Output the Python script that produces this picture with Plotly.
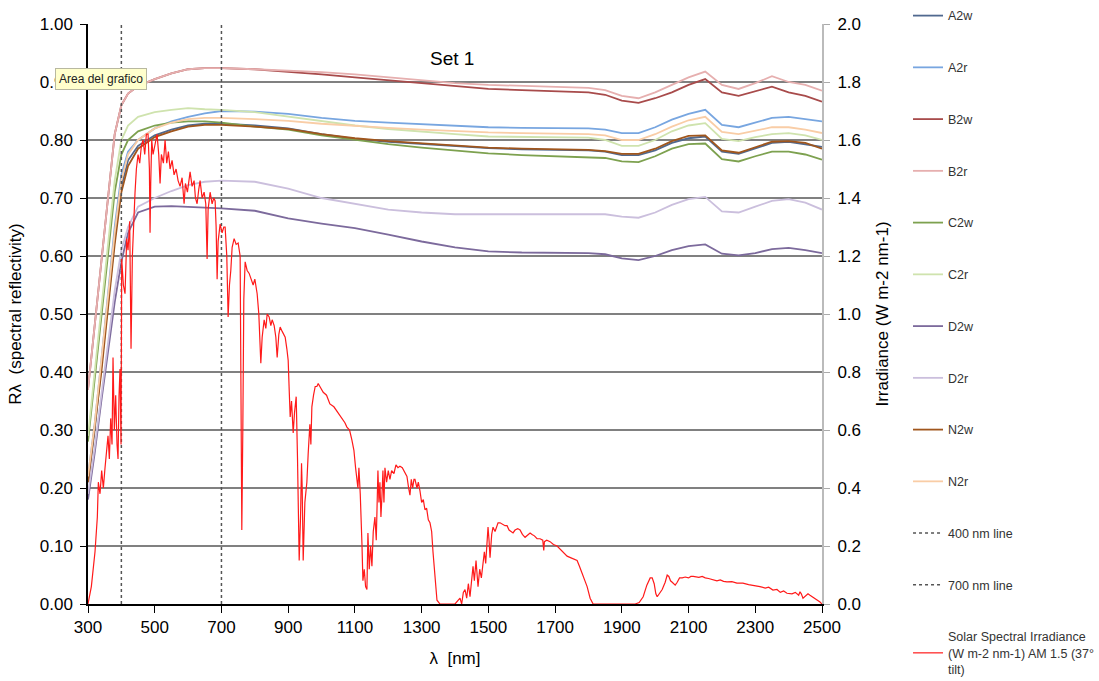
import plotly.graph_objects as go

# ---------------- data ----------------
wl = [300, 320, 340, 360, 380, 400, 420, 450, 500, 550, 600, 650, 700,
      800, 900, 1000, 1100, 1200, 1300, 1400, 1500, 1600, 1700, 1800, 1850,
      1900, 1950, 2000, 2050, 2100, 2150, 2200, 2250, 2300, 2350, 2400, 2450, 2500]

A2w = [0.21, 0.30, 0.41, 0.52, 0.63, 0.72, 0.765, 0.79, 0.808, 0.818, 0.825, 0.828, 0.828,
       0.825, 0.82, 0.81, 0.802, 0.797, 0.793, 0.79, 0.786, 0.784, 0.783, 0.782, 0.780,
       0.774, 0.774, 0.782, 0.795, 0.803, 0.806, 0.780, 0.776, 0.785, 0.795, 0.797, 0.792, 0.788]
A2r = [0.22, 0.31, 0.42, 0.53, 0.65, 0.74, 0.78, 0.80, 0.82, 0.832, 0.84, 0.846, 0.85,
       0.849, 0.845, 0.838, 0.833, 0.83, 0.827, 0.824, 0.822, 0.821, 0.821, 0.82, 0.818,
       0.812, 0.812, 0.822, 0.835, 0.845, 0.852, 0.826, 0.822, 0.83, 0.838, 0.84, 0.836, 0.832]
B2w = [0.37, 0.48, 0.60, 0.71, 0.81, 0.86, 0.88, 0.893, 0.905, 0.915, 0.922, 0.924, 0.924,
       0.922, 0.918, 0.913, 0.908, 0.903, 0.898, 0.892, 0.888, 0.886, 0.884, 0.882, 0.878,
       0.868, 0.864, 0.872, 0.882, 0.895, 0.905, 0.882, 0.876, 0.884, 0.892, 0.882, 0.876, 0.866]
B2r = [0.37, 0.48, 0.60, 0.71, 0.81, 0.86, 0.88, 0.893, 0.905, 0.915, 0.922, 0.924, 0.924,
       0.922, 0.92, 0.917, 0.913, 0.908, 0.903, 0.898, 0.895, 0.893, 0.892, 0.89, 0.886,
       0.876, 0.872, 0.882, 0.895, 0.908, 0.918, 0.895, 0.888, 0.898, 0.91, 0.90, 0.895, 0.885]
C2w = [0.28, 0.39, 0.50, 0.61, 0.71, 0.775, 0.80, 0.815, 0.825, 0.83, 0.832, 0.832, 0.83,
       0.823, 0.818, 0.808, 0.80, 0.793, 0.787, 0.782, 0.777, 0.774, 0.772, 0.771, 0.769,
       0.763, 0.762, 0.772, 0.785, 0.793, 0.794, 0.767, 0.763, 0.772, 0.78, 0.78, 0.775, 0.766]
C2r = [0.29, 0.40, 0.51, 0.62, 0.73, 0.80, 0.825, 0.84, 0.848, 0.852, 0.855, 0.853, 0.852,
       0.848, 0.84, 0.832, 0.825, 0.819, 0.814, 0.81, 0.806, 0.805, 0.805, 0.804, 0.80,
       0.79, 0.79, 0.80, 0.815, 0.825, 0.829, 0.802, 0.798, 0.805, 0.81, 0.812, 0.808, 0.80]
D2w = [0.18, 0.26, 0.35, 0.44, 0.52, 0.59, 0.64, 0.675, 0.685, 0.686, 0.685, 0.684, 0.682,
       0.678, 0.665, 0.656, 0.648, 0.637, 0.625, 0.615, 0.608, 0.606, 0.605, 0.605, 0.603,
       0.596, 0.593, 0.60, 0.61, 0.617, 0.62, 0.604, 0.601, 0.605, 0.612, 0.614, 0.61, 0.605]
D2r = [0.19, 0.27, 0.36, 0.45, 0.54, 0.61, 0.65, 0.685, 0.70, 0.712, 0.722, 0.728, 0.73,
       0.728, 0.716, 0.70, 0.69, 0.68, 0.675, 0.672, 0.672, 0.672, 0.672, 0.672, 0.672,
       0.668, 0.666, 0.675, 0.688, 0.698, 0.702, 0.677, 0.675, 0.685, 0.695, 0.698, 0.692, 0.68]
N2w = [0.21, 0.30, 0.40, 0.51, 0.62, 0.71, 0.755, 0.785, 0.805, 0.815, 0.823, 0.826, 0.826,
       0.823, 0.819, 0.81, 0.803, 0.798, 0.794, 0.791, 0.787, 0.785, 0.784, 0.783, 0.781,
       0.776, 0.776, 0.785, 0.798, 0.807, 0.808, 0.782, 0.778, 0.787, 0.797, 0.798, 0.795, 0.785]
N2r = [0.22, 0.31, 0.42, 0.53, 0.64, 0.73, 0.775, 0.80, 0.82, 0.83, 0.836, 0.838, 0.838,
       0.836, 0.833, 0.828, 0.824, 0.821, 0.818, 0.815, 0.813, 0.812, 0.811, 0.81, 0.808,
       0.80, 0.80, 0.81, 0.823, 0.834, 0.84, 0.814, 0.81, 0.816, 0.822, 0.822, 0.818, 0.812]

solar_wl = [300, 310, 321, 328, 331, 336, 341, 346, 351, 356, 360, 364, 368, 372, 375, 379, 383, 387,
            390, 393, 396, 399, 401, 406, 411, 416, 420, 425, 429, 433, 437, 441, 445, 450, 455, 460,
            465, 470, 475, 480, 484, 486, 488, 491, 495, 500, 507, 512, 516, 520, 526, 531, 536, 541,
            546, 552, 558, 564, 570, 576, 582, 588, 592, 598, 606, 612, 618, 622, 627, 632, 636, 642,
            648, 653, 657, 660, 666, 672, 677, 681, 684, 687, 690, 696, 702, 707, 711, 716, 720, 724,
            728, 732, 738, 744, 750, 756, 759, 761, 764, 767, 771, 777, 783, 789, 795, 800, 807, 812,
            815, 818, 822, 828, 833, 837, 843, 848, 852, 858, 863, 867, 872, 876, 882, 887, 891, 896,
            900, 903, 906, 910, 915, 919, 924, 928, 931, 933, 937, 940, 942, 945, 950, 956, 960, 965,
            968, 971, 976, 981, 986, 990, 995, 1005, 1015, 1025, 1037, 1049, 1060, 1070, 1076, 1084,
            1091, 1097, 1102, 1106, 1109, 1112, 1116, 1121, 1124, 1128, 1132, 1136, 1139, 1143, 1147,
            1151, 1155, 1160, 1164, 1169, 1172, 1175, 1178, 1181, 1184, 1187, 1190, 1195, 1200, 1205,
            1210, 1217, 1223, 1229, 1235, 1242, 1250, 1256, 1261, 1265, 1269, 1273, 1277, 1280, 1286,
            1290, 1295, 1300, 1305, 1310, 1315, 1320, 1325, 1330, 1334, 1340, 1346, 1355, 1400, 1415,
            1420, 1425, 1430, 1435, 1440, 1445, 1450, 1454, 1458, 1463, 1469, 1474, 1479, 1484, 1488,
            1492, 1496, 1499, 1502, 1505, 1510, 1514, 1520, 1525, 1529, 1535, 1542, 1550, 1556, 1562,
            1568, 1574, 1580, 1588, 1595, 1602, 1610, 1618, 1625, 1631, 1638, 1646, 1655, 1663, 1666,
            1668, 1675, 1685, 1695, 1706, 1715, 1725, 1736, 1746, 1756, 1766, 1773, 1781, 1790, 1796,
            1805, 1814, 1940, 1952, 1964, 1975, 1985, 1991, 1997, 2002, 2006, 2012, 2021, 2030, 2036,
            2041, 2046, 2051, 2056, 2060, 2066, 2073, 2081, 2090, 2100, 2107, 2114, 2122, 2131, 2141,
            2150, 2160, 2174, 2185, 2195, 2205, 2215, 2230, 2245, 2263, 2280, 2295, 2314, 2330, 2340,
            2353, 2365, 2375, 2385, 2395, 2410, 2420, 2430, 2434, 2438, 2443, 2450, 2458, 2464, 2475,
            2485, 2494, 2500]
solar_irr = [0.0, 0.06, 0.18, 0.30, 0.42, 0.38, 0.46, 0.40, 0.47, 0.52, 0.58, 0.50, 0.64, 0.55, 0.85, 0.60, 0.72, 0.55,
             0.50, 0.72, 0.81, 0.55, 1.19, 1.10, 1.07, 1.26, 1.22, 1.32, 0.88, 1.20, 1.35, 1.42, 1.50, 1.55, 1.52, 1.58,
             1.60, 1.55, 1.62, 1.62, 1.50, 1.28, 1.45, 1.60, 1.55, 1.58, 1.62, 1.55, 1.45, 1.55, 1.52, 1.60, 1.52, 1.56,
             1.50, 1.53, 1.48, 1.50, 1.46, 1.44, 1.47, 1.38, 1.45, 1.42, 1.49, 1.44, 1.46, 1.40, 1.38, 1.43, 1.46, 1.40,
             1.42, 1.38, 1.19, 1.36, 1.42, 1.38, 1.40, 1.39, 1.30, 1.12, 1.25, 1.31, 1.28, 1.30, 1.30, 1.20, 0.99, 1.10,
             1.15, 1.23, 1.26, 1.24, 1.245, 1.20, 0.70, 0.255, 0.60, 1.05, 1.18, 1.15, 1.14, 1.12, 1.10, 1.12, 1.07, 1.00,
             0.90, 0.83, 0.92, 0.98, 0.95, 1.00, 0.99, 0.96, 0.98, 0.96, 0.92, 0.85, 0.93, 0.955, 0.94, 0.93, 0.92, 0.88,
             0.84, 0.74, 0.645, 0.70, 0.59, 0.66, 0.715, 0.50, 0.25, 0.15, 0.30, 0.485, 0.40, 0.15, 0.35, 0.42, 0.52, 0.62,
             0.55, 0.68, 0.72, 0.75, 0.75, 0.76, 0.75, 0.73, 0.72, 0.69, 0.68, 0.66, 0.64, 0.625, 0.61, 0.60,
             0.565, 0.53, 0.47, 0.42, 0.40, 0.47, 0.38, 0.21, 0.08, 0.12, 0.06, 0.05, 0.245, 0.12, 0.20,
             0.13, 0.25, 0.30, 0.22, 0.46, 0.35, 0.42, 0.30, 0.37, 0.46, 0.35, 0.47, 0.42, 0.46, 0.43,
             0.46, 0.45, 0.48, 0.47, 0.475, 0.47, 0.455, 0.44, 0.40, 0.375, 0.43, 0.40, 0.43, 0.43, 0.40,
             0.42, 0.39, 0.35, 0.36, 0.325, 0.33, 0.29, 0.28, 0.25, 0.18, 0.08, 0.013, 0.0, 0.0, 0.02,
             0.0, 0.04, 0.05, 0.02, 0.07, 0.025, 0.10, 0.13, 0.08, 0.15, 0.06, 0.12, 0.09, 0.13, 0.18,
             0.14, 0.20, 0.265, 0.22, 0.16, 0.24, 0.265, 0.25, 0.27, 0.28, 0.28, 0.275, 0.27, 0.27, 0.255,
             0.25, 0.245, 0.255, 0.26, 0.255, 0.24, 0.23, 0.24, 0.245, 0.24, 0.235, 0.225, 0.225, 0.22, 0.185,
             0.215, 0.22, 0.215, 0.205, 0.20, 0.19, 0.18, 0.165, 0.16, 0.155, 0.15, 0.13, 0.105, 0.075, 0.06,
             0.02, 0.0, 0.0, 0.005, 0.025, 0.065, 0.09, 0.09, 0.07, 0.035, 0.025, 0.035, 0.05, 0.075, 0.10,
             0.095, 0.08, 0.075, 0.07, 0.065, 0.075, 0.09, 0.09, 0.093, 0.09, 0.095, 0.095, 0.093, 0.092, 0.095,
             0.09, 0.088, 0.083, 0.08, 0.083, 0.078, 0.076, 0.077, 0.072, 0.072, 0.067, 0.065, 0.06, 0.055, 0.058,
             0.048, 0.05, 0.04, 0.045, 0.037, 0.035, 0.04, 0.03, 0.042, 0.035, 0.02, 0.028, 0.035, 0.03, 0.022,
             0.012, 0.007, 0.0]

series_names = ["A2w", "A2r", "B2w", "B2r", "C2w", "C2r", "D2w", "D2r", "N2w", "N2r"]
series_vals = [A2w, A2r, B2w, B2r, C2w, C2r, D2w, D2r, N2w, N2r]
series_colors = ["#50698F", "#78A6E0", "#A84B4B", "#E6AFAF", "#7DA14F",
                 "#CFE3AE", "#7C6A9C", "#CBBFDD", "#A0561D", "#F9CDA6"]
vlines = [400, 700]
vline_names = ["400 nm line", "700 nm line"]
x_ticks = list(range(300, 2501, 200))

FONT = "Liberation Sans, Arial, sans-serif"

fig = go.Figure()
for name, vals, col in zip(series_names, series_vals, series_colors):
    fig.add_trace(go.Scatter(x=wl, y=vals, name=name, mode="lines",
                             line=dict(color=col, width=1.8), legendgroup=name))
for v, nm in zip(vlines, vline_names):
    fig.add_trace(go.Scatter(x=[v, v], y=[0, 1], name=nm, mode="lines",
                             line=dict(color="#555555", width=1.5, dash="dot"), legendgroup=nm))
fig.add_trace(go.Scatter(x=solar_wl, y=solar_irr, yaxis="y2", mode="lines",
                         name="Solar Spectral Irradiance<br>(W m-2 nm-1) AM 1.5 (37°<br>tilt)",
                         line=dict(color="#FF1A1A", width=1.2), legendgroup="solar"))

fig.update_layout(
    width=1099, height=681,
    margin=dict(l=88, r=277, t=24, b=77, autoexpand=False),
    paper_bgcolor="white", plot_bgcolor="white",
    font=dict(family=FONT, color="black", size=17),
    showlegend=True,
    legend=dict(x=1.1172, xanchor="left", y=1.0397, yanchor="top",
                font=dict(size=12.5, color="#333333", family=FONT),
                tracegroupgap=32.5, bgcolor="rgba(0,0,0,0)", borderwidth=0,
                maxheight=900),
    xaxis=dict(range=[300, 2500], tickvals=x_ticks, ticks="outside", ticklen=7,
               tickcolor="black", showline=True, linecolor="black", linewidth=1.5,
               showgrid=False, zeroline=False,
               title=dict(text="λ  [nm]", font=dict(size=17), standoff=16),
               tickfont=dict(size=17)),
    yaxis=dict(range=[0, 1], dtick=0.1, tickformat=".2f", ticks="outside", ticklen=6,
               tickcolor="black", showline=True, linecolor="black", linewidth=1.5,
               showgrid=True, gridcolor="#808080", gridwidth=2, zeroline=False,
               ticklabelstandoff=4,
               title=dict(text="Rλ  (spectral reflectivity)", font=dict(size=17), standoff=14),
               tickfont=dict(size=17)),
    yaxis2=dict(range=[0, 2], dtick=0.2, tickformat=".1f", overlaying="y", side="right",
                ticks="outside", ticklen=6, tickcolor="#AAAAAA", showline=True,
                linecolor="#BBBBBB", linewidth=2, showgrid=False, zeroline=False,
                ticklabelstandoff=4,
                title=dict(text="Irradiance (W m-2 nm-1)", font=dict(size=17), standoff=16),
                tickfont=dict(size=17)),
    annotations=[
        dict(text="Set 1", x=0.496, y=0.962, xref="paper", yref="paper", showarrow=False,
             font=dict(size=19, color="black", family=FONT)),
        dict(text="Area del grafico", x=-0.045, y=0.906, xref="paper", yref="paper",
             xanchor="left", yanchor="middle", showarrow=False,
             font=dict(size=12, color="#222222", family=FONT),
             bgcolor="#FFFFCC", bordercolor="#B8B8A0", borderwidth=1, borderpad=3),
    ],
)

fig.write_html("out.html")
